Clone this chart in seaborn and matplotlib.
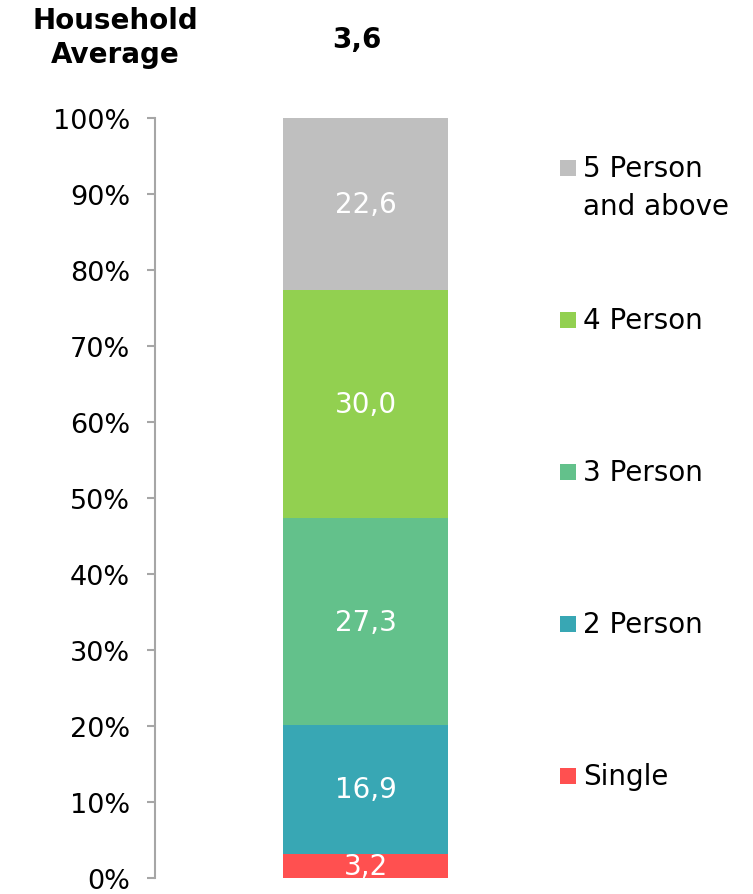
import matplotlib.pyplot as plt
import matplotlib.patches as mpatches
import seaborn as sns
import numpy as np
import pandas as pd

sns.set_style("white")
plt.rcParams['font.family'] = ['DejaVu Sans']
plt.rcParams['text.color'] = 'black'
plt.rcParams['ytick.labelcolor'] = 'black'

# Household size shares (%), bottom to top
categories = ['Single', '2 Person', '3 Person', '4 Person', '5 Person\nand above']
shares = [3.2, 16.9, 27.3, 30.0, 22.6]
value_labels = ['3,2', '16,9', '27,3', '30,0', '22,6']
colors = ['#FF5050', '#38A7B4', '#63C18B', '#92D050', '#BFBFBF']
household_average = '3,6'
yticks = list(range(0, 101, 10))
ytick_labels = [f'{t}%' for t in yticks]

fig = plt.figure(figsize=(7.53, 8.95), dpi=100)
ax = fig.add_axes([155 / 753, 16 / 895, 421 / 753, 760 / 895])

df = pd.DataFrame({'cat': categories, 'share': shares})
df['bottom'] = df['share'].cumsum() - df['share']

# stacked segments, drawn one layer at a time with seaborn
for i, row in df.iterrows():
    sns.barplot(x=[0.5], y=[row['share'] + row['bottom']], ax=ax,
                color=colors[i], width=0.392, native_scale=True,
                saturation=1, linewidth=0, edgecolor='none', zorder=5 - i)

ax.set_xlim(0, 1)
ax.set_ylim(0, 100)
ax.set_yticks(yticks)
ax.set_yticklabels(ytick_labels, fontsize=19.5)
ax.set_xticks([])
ax.set_xlabel('')
ax.set_ylabel('')
ax.tick_params(axis='y', direction='out', length=6, width=1.5,
               color='#A6A6A6', pad=12, left=True, labelcolor='black')
for side in ['top', 'right', 'bottom']:
    ax.spines[side].set_visible(False)
ax.spines['left'].set_color('#A6A6A6')
ax.spines['left'].set_linewidth(1.5)

# value labels inside segments
for i, row in df.iterrows():
    ax.text(0.5, row['bottom'] + row['share'] / 2, value_labels[i],
            ha='center', va='center', color='white', fontsize=20,
            zorder=10, clip_on=True)

# legend, evenly spaced on the right
pitch = 152
for i, cat in enumerate(categories):
    y_px = 777 - i * pitch
    fig.patches.append(mpatches.Rectangle(
        (560 / 753, 1 - (y_px + 8) / 895), 16 / 753, 16 / 895,
        transform=fig.transFigure, facecolor=colors[i], edgecolor='none'))
    fig.text(583 / 753, 1 - (y_px - 14) / 895, cat, ha='left', va='top',
             fontsize=20, color='black', linespacing=1.45)

# header
fig.text(115 / 753, 1 - 38 / 895, 'Household\nAverage', ha='center',
         va='center', fontsize=20, fontweight='bold', linespacing=1.3)
fig.text(357 / 753, 1 - 40 / 895, household_average, ha='center',
         va='center', fontsize=20, fontweight='bold')

plt.savefig('out.png', dpi=100)
plt.close()
